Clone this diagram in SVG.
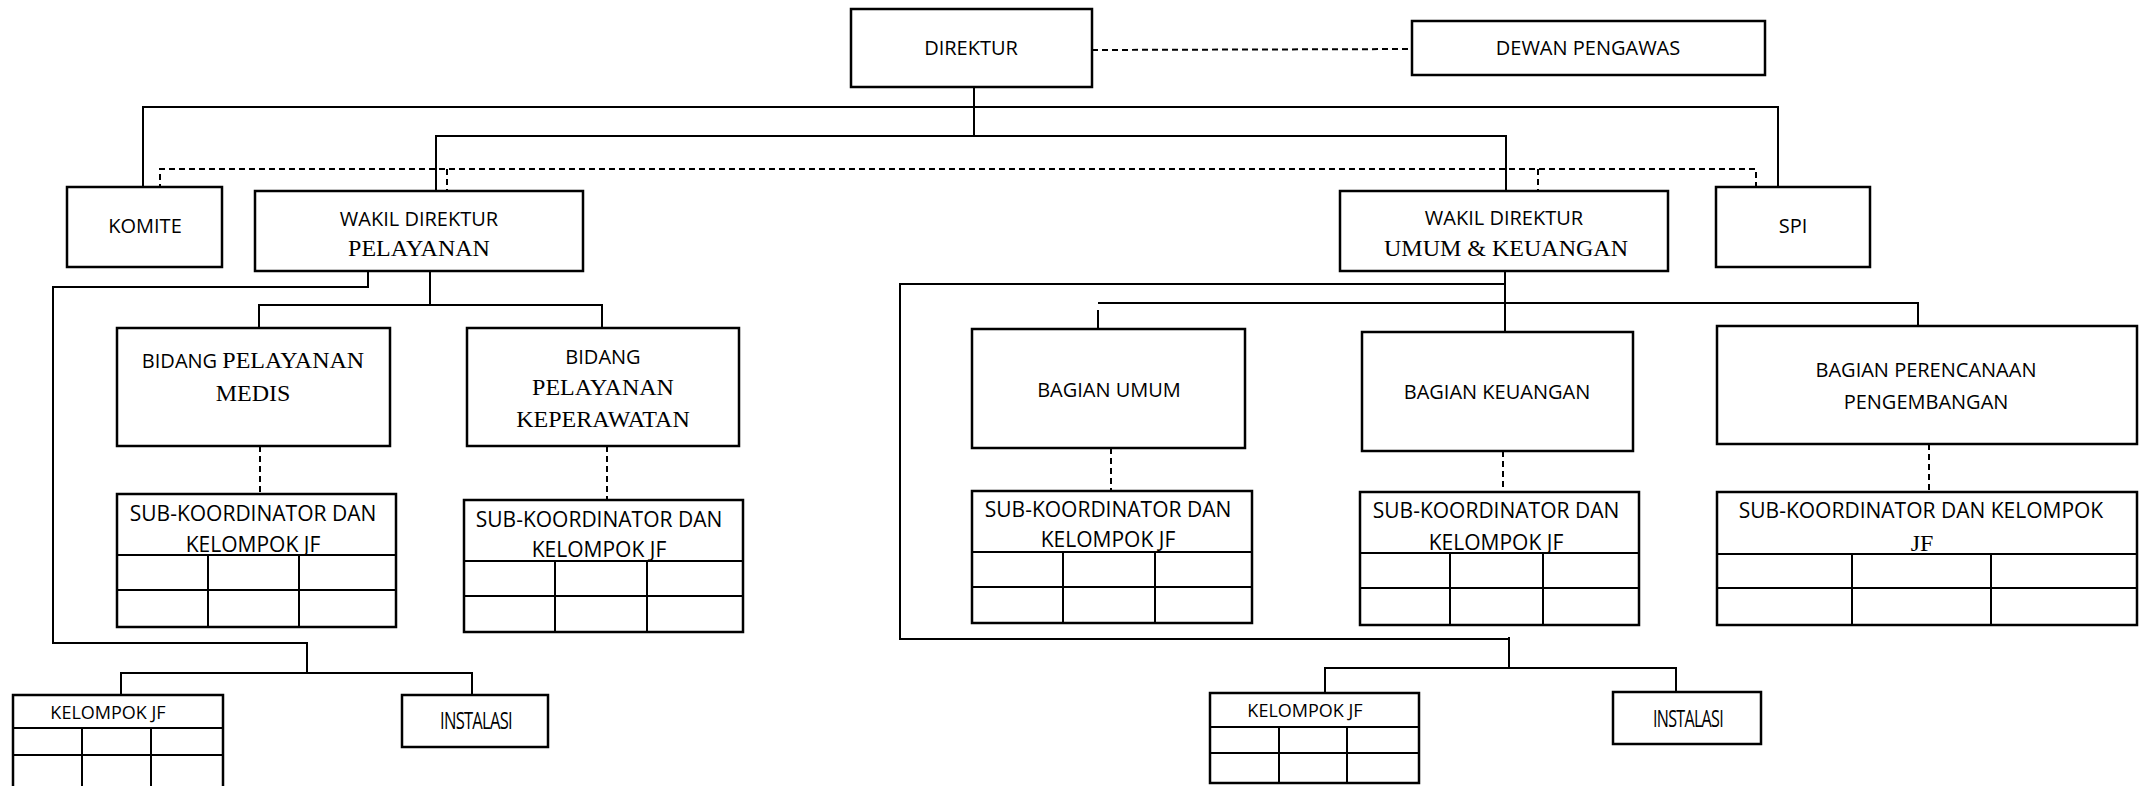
<svg xmlns="http://www.w3.org/2000/svg" width="2146" height="786" viewBox="0 0 2146 786">
<style>
.box{fill:#fff;stroke:#000;stroke-width:2.5}
.ln{fill:none;stroke:#000;stroke-width:2}
.dash{fill:none;stroke:#000;stroke-width:2;stroke-dasharray:6 4}
.cell{fill:none;stroke:#000;stroke-width:2}
text{fill:#000;text-anchor:middle}
.t{font-family:"Open Sans","Noto Sans",sans-serif;font-size:20px}
.sub{font-family:"Open Sans","Noto Sans",sans-serif;font-size:21px}
.s{font-family:"Liberation Serif","Times New Roman",serif;font-size:24px}
.k{font-family:"Open Sans","Noto Sans",sans-serif;font-size:18px}
.inst{font-family:"Open Sans","Noto Sans",sans-serif;font-size:23px;letter-spacing:-1px}
</style>
<rect width="2146" height="786" fill="#fff"/>
<g id="connectors">
  <path class="dash" d="M1092 50 L1412 49"/>
  <path class="ln" d="M143 187 V107 H1778 V187"/>
  <path class="ln" d="M974 87 V136"/>
  <path class="ln" d="M436 191 V136 H1506 V191"/>
  <path class="dash" d="M160 190 V169 H1756 V190"/>
  <path class="dash" d="M447 169 V191"/>
  <path class="dash" d="M1538 169 V191"/>
  <path class="ln" d="M430 271 V305"/>
  <path class="ln" d="M259 328 V305 H602 V328"/>
  <path class="ln" d="M368 271 V287 H53 V643 H307 V673"/>
  <path class="ln" d="M121 695 V673 H472 V695"/>
  <path class="dash" d="M260 446 V494"/>
  <path class="dash" d="M607 446 V500"/>
  <path class="ln" d="M1505 271 V332"/>
  <path class="ln" d="M1505 284 H900 V639 H1509"/>
  <path class="ln" d="M1509 637 V668"/>
  <path class="ln" d="M1325 692 V668 H1676 V692"/>
  <path class="ln" d="M1098 303 H1918 V326"/>
  <path class="ln" d="M1098 310 V329"/>
  <path class="dash" d="M1111 448 V491"/>
  <path class="dash" d="M1503 451 V492"/>
  <path class="dash" d="M1929 444 V492"/>
</g>
<g id="direktur">
  <rect class="box" x="851" y="9" width="241" height="78"/>
  <text class="t" x="971" y="55">DIREKTUR</text>
</g>
<g id="dewan-pengawas">
  <rect class="box" x="1412" y="21" width="353" height="54"/>
  <text class="t" x="1588" y="55">DEWAN PENGAWAS</text>
</g>
<g id="komite">
  <rect class="box" x="67" y="187" width="155" height="80"/>
  <text class="t" x="145" y="233">KOMITE</text>
</g>
<g id="wakil-pelayanan">
  <rect class="box" x="255" y="191" width="328" height="80"/>
  <text class="t" x="419" y="226">WAKIL DIREKTUR</text>
  <text class="s" x="419" y="256">PELAYANAN</text>
</g>
<g id="wakil-umum">
  <rect class="box" x="1340" y="191" width="328" height="80"/>
  <text class="t" x="1504" y="225">WAKIL DIREKTUR</text>
  <text class="s" x="1506" y="256">UMUM &amp; KEUANGAN</text>
</g>
<g id="spi">
  <rect class="box" x="1716" y="187" width="154" height="80"/>
  <text class="t" x="1793" y="233">SPI</text>
</g>
<g id="bidang-medis">
  <rect class="box" x="117" y="328" width="273" height="118"/>
  <text x="253" y="368"><tspan class="t">BIDANG </tspan><tspan class="s">PELAYANAN</tspan></text>
  <text class="s" x="253" y="401">MEDIS</text>
</g>
<g id="bidang-keperawatan">
  <rect class="box" x="467" y="328" width="272" height="118"/>
  <text class="t" x="603" y="364">BIDANG</text>
  <text class="s" x="603" y="395">PELAYANAN</text>
  <text class="s" x="603" y="427">KEPERAWATAN</text>
</g>
<g id="sub-medis">
  <rect class="box" x="117" y="494" width="279" height="133"/>
  <path class="cell" d="M117 555 H396 M117 590 H396 M208 555 V627 M299 555 V627"/>
  <text class="sub" x="253" y="521">SUB-KOORDINATOR DAN</text>
  <text class="sub" x="253" y="552">KELOMPOK JF</text>
</g>
<g id="sub-keperawatan">
  <rect class="box" x="464" y="500" width="279" height="132"/>
  <path class="cell" d="M464 561 H743 M464 596 H743 M555 561 V632 M647 561 V632"/>
  <text class="sub" x="599" y="527">SUB-KOORDINATOR DAN</text>
  <text class="sub" x="599" y="557">KELOMPOK JF</text>
</g>
<g id="bagian-umum">
  <rect class="box" x="972" y="329" width="273" height="119"/>
  <text class="t" x="1109" y="397">BAGIAN UMUM</text>
</g>
<g id="bagian-keuangan">
  <rect class="box" x="1362" y="332" width="271" height="119"/>
  <text class="t" x="1497" y="399">BAGIAN KEUANGAN</text>
</g>
<g id="bagian-perencanaan">
  <rect class="box" x="1717" y="326" width="420" height="118"/>
  <text class="t" x="1926" y="377">BAGIAN PERENCANAAN</text>
  <text class="t" x="1926" y="409">PENGEMBANGAN</text>
</g>
<g id="sub-umum">
  <rect class="box" x="972" y="491" width="280" height="132"/>
  <path class="cell" d="M972 552 H1252 M972 587 H1252 M1063 552 V623 M1155 552 V623"/>
  <text class="sub" x="1108" y="517">SUB-KOORDINATOR DAN</text>
  <text class="sub" x="1108" y="547">KELOMPOK JF</text>
</g>
<g id="sub-keuangan">
  <rect class="box" x="1360" y="492" width="279" height="133"/>
  <path class="cell" d="M1360 553 H1639 M1360 588 H1639 M1450 553 V625 M1543 553 V625"/>
  <text class="sub" x="1496" y="518">SUB-KOORDINATOR DAN</text>
  <text class="sub" x="1496" y="550">KELOMPOK JF</text>
</g>
<g id="sub-perencanaan">
  <rect class="box" x="1717" y="492" width="420" height="133"/>
  <path class="cell" d="M1717 554 H2137 M1717 588 H2137 M1852 554 V625 M1991 554 V625"/>
  <text class="sub" x="1921" y="518">SUB-KOORDINATOR DAN KELOMPOK</text>
  <text class="s" x="1922" y="551">JF</text>
</g>
<g id="kelompok-jf-kiri">
  <rect class="box" x="13" y="695" width="210" height="95"/>
  <path class="cell" d="M13 728 H223 M13 755 H223 M82 728 V790 M151 728 V790"/>
  <text class="k" x="108" y="719">KELOMPOK JF</text>
</g>
<g id="instalasi-kiri">
  <rect class="box" x="402" y="695" width="146" height="52"/>
  <text class="inst" x="476" y="729" textLength="72" lengthAdjust="spacingAndGlyphs">INSTALASI</text>
</g>
<g id="kelompok-jf-kanan">
  <rect class="box" x="1210" y="693" width="209" height="90"/>
  <path class="cell" d="M1210 727 H1419 M1210 753 H1419 M1279 727 V783 M1347 727 V783"/>
  <text class="k" x="1305" y="717">KELOMPOK JF</text>
</g>
<g id="instalasi-kanan">
  <rect class="box" x="1613" y="692" width="148" height="52"/>
  <text class="inst" x="1688" y="727" textLength="70" lengthAdjust="spacingAndGlyphs">INSTALASI</text>
</g>
</svg>
